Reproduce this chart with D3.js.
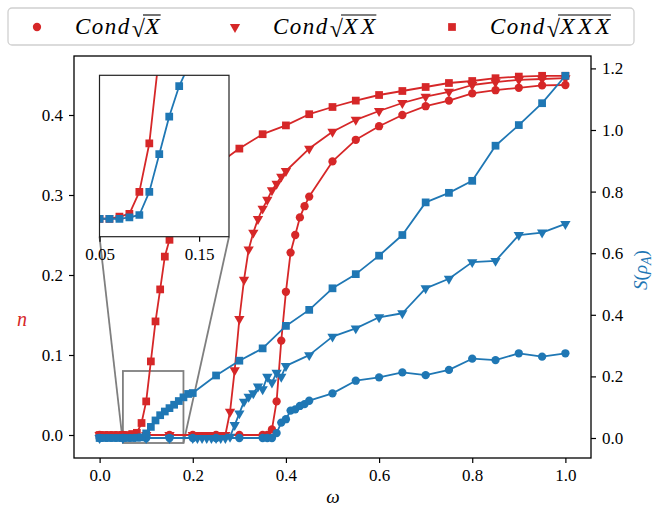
<!DOCTYPE html>
<html>
<head>
<meta charset="utf-8">
<script src="https://cdn.jsdelivr.net/npm/d3@7"></script>
<style>
  body { margin: 0; background: #fff; }
  svg { display: block; }
  text { font-family: "Liberation Serif", "DejaVu Serif", serif; }
</style>
</head>
<body>
<script>
// omega grids (each series has its own sampling)
var wSq = [0, 0.01, 0.02, 0.03, 0.04, 0.05, 0.06, 0.07, 0.08, 0.09, 0.10, 0.11, 0.12, 0.13, 0.14, 0.15, 0.16, 0.17, 0.18, 0.19, 0.20,
           0.25, 0.30, 0.35, 0.40, 0.45, 0.50, 0.55, 0.60, 0.65, 0.70, 0.75, 0.80, 0.85, 0.90, 0.95, 1.0];
var wTri = [0, 0.05, 0.10, 0.15, 0.20, 0.21, 0.22, 0.23, 0.24, 0.25, 0.26, 0.27, 0.28, 0.29, 0.30, 0.31, 0.32, 0.33, 0.34, 0.35,
            0.36, 0.37, 0.38, 0.39, 0.40, 0.45, 0.50, 0.55, 0.60, 0.65, 0.70, 0.75, 0.80, 0.85, 0.90, 0.95, 1.0];
var wCir = [0, 0.05, 0.10, 0.15, 0.20, 0.25, 0.30, 0.35, 0.36, 0.37, 0.38, 0.39, 0.40, 0.41, 0.42, 0.43, 0.44, 0.45,
            0.50, 0.55, 0.60, 0.65, 0.70, 0.75, 0.80, 0.85, 0.90, 0.95, 1.0];

// n (left axis, red)
var nSq = [0, 0, 0, 0, 0, 0, 0, 0.0012, 0.0027, 0.015, 0.042, 0.092, 0.142, 0.182, 0.223, 0.244, 0.26, 0.272, 0.283, 0.293, 0.302,
           0.337, 0.358, 0.376, 0.387, 0.401, 0.410, 0.418, 0.425, 0.430, 0.435, 0.440, 0.4425, 0.446, 0.448, 0.449, 0.449];
var nTri = [0, 0, 0, 0, 0, 0, 0, 0, 0, 0, 0, 0, 0.029, 0.081, 0.145, 0.194, 0.232, 0.253, 0.270, 0.283,
            0.294, 0.306, 0.314, 0.323, 0.330, 0.358, 0.379, 0.394, 0.405, 0.415, 0.423, 0.429, 0.4375, 0.441, 0.444, 0.445, 0.446];
var nCir = [0, 0, 0, 0, 0, 0, 0, 0, 0, 0.007, 0.042, 0.118, 0.179, 0.228, 0.250, 0.272, 0.286, 0.298,
            0.342, 0.369, 0.386, 0.400, 0.411, 0.418, 0.427, 0.431, 0.434, 0.437, 0.4375];

// S(rho_A) (right axis, blue)
var sSq = [0, 0, 0, 0, 0, 0, 0, 0, 0.0008, 0.0021, 0.015, 0.036, 0.057, 0.074, 0.086, 0.097, 0.108, 0.120, 0.132, 0.143, 0.146,
           0.203, 0.251, 0.291, 0.364, 0.416, 0.486, 0.532, 0.592, 0.659, 0.765, 0.796, 0.835, 0.949, 1.016, 1.087, 1.176];
var sTri = [0, 0, 0, 0, 0, 0, 0, 0, 0, 0, 0, 0, 0.004, 0.042, 0.080, 0.118, 0.134, 0.145, 0.167, 0.158,
            0.199, 0.180, 0.212, 0.199, 0.234, 0.269, 0.329, 0.356, 0.392, 0.405, 0.486, 0.517, 0.571, 0.575, 0.659, 0.667, 0.695];
var sCir = [0, 0, 0, 0, 0, 0, 0, 0, 0, 0, 0.016, 0.050, 0.061, 0.089, 0.093, 0.104, 0.110, 0.121,
            0.145, 0.186, 0.197, 0.213, 0.204, 0.221, 0.2575, 0.253, 0.275, 0.264, 0.275];

var xTicks = [0, 0.2, 0.4, 0.6, 0.8, 1.0];
var nTicks = [0, 0.1, 0.2, 0.3, 0.4];
var sTicks = [0, 0.2, 0.4, 0.6, 0.8, 1.0, 1.2];
var insetTicks = [0.05, 0.15];
var legendLabels = ["X", "XX", "XXX"];

var red = "#d62728", blue = "#1f77b4";
var serif = "Liberation Serif";

var svg = d3.select("body").append("svg")
    .attr("width", 658)
    .attr("height", 512);

// main scales
var x = d3.scaleLinear().domain([-0.055, 1.055]).range([74, 591]);
var yN = d3.scaleLinear().domain([-0.02875, 0.47375]).range([458, 56]);
var yS = d3.scaleLinear().domain([-20 / 308, 382 / 308]).range([458, 56]);

// inset scales
var xi = d3.scaleLinear().domain([0.05, 0.18]).range([99.5, 229]);
var yi = d3.scaleLinear().domain([-0.01, 0.08]).range([236.7, 75.3]);

function sym(shape) {
    if (shape === "sq") return d3.symbol().type(d3.symbolSquare).size(60)();
    if (shape === "tri") return d3.symbol().type(d3.symbolTriangle).size(46)();
    return d3.symbol().type(d3.symbolCircle).size(54)();
}

function drawSeries(g, xs, ys, xs2, ys2, color, shape) {
    var pts = xs.map(function(d, i) { return [xs2(d), ys2(ys[i])]; });
    g.append("path")
        .attr("d", d3.line()(pts))
        .attr("fill", "none")
        .attr("stroke", color)
        .attr("stroke-width", 1.8)
        .attr("stroke-linejoin", "round");
    g.selectAll(null).data(pts).enter().append("path")
        .attr("transform", function(p) {
            return "translate(" + p[0] + "," + p[1] + ")" + (shape === "tri" ? " rotate(180)" : "");
        })
        .attr("d", sym(shape))
        .attr("fill", color);
}

svg.append("clipPath").attr("id", "main-clip")
  .append("rect").attr("x", 74).attr("y", 56).attr("width", 517).attr("height", 402);

var plot = svg.append("g").attr("clip-path", "url(#main-clip)");

// zoom indicator + connectors (under data lines)
var ind = plot.append("g")
    .attr("fill", "none")
    .attr("stroke", "#7f7f7f")
    .attr("stroke-width", 1.8);
ind.append("rect")
    .attr("x", x(0.05)).attr("y", yN(0.08))
    .attr("width", x(0.18) - x(0.05)).attr("height", yN(-0.01) - yN(0.08));
ind.append("line").attr("x1", x(0.05)).attr("y1", yN(-0.01)).attr("x2", xi(0.05)).attr("y2", yi(-0.01));
ind.append("line").attr("x1", x(0.18)).attr("y1", yN(-0.01)).attr("x2", xi(0.18)).attr("y2", yi(-0.01));

// red: n
drawSeries(plot, wCir, nCir, x, yN, red, "cir");
drawSeries(plot, wTri, nTri, x, yN, red, "tri");
drawSeries(plot, wSq, nSq, x, yN, red, "sq");
// blue: S
drawSeries(plot, wCir, sCir, x, yS, blue, "cir");
drawSeries(plot, wTri, sTri, x, yS, blue, "tri");
drawSeries(plot, wSq, sSq, x, yS, blue, "sq");

// frame
svg.append("rect")
    .attr("x", 74).attr("y", 56).attr("width", 517).attr("height", 402)
    .attr("fill", "none").attr("stroke", "#000").attr("stroke-width", 1.3);

// axes
var axisFont = "17px";
var gx = svg.append("g").attr("transform", "translate(0,458)")
    .call(d3.axisBottom(x).tickValues(xTicks).tickFormat(d3.format(".1f")).tickSize(5).tickPadding(6));
var gl = svg.append("g").attr("transform", "translate(74,0)")
    .call(d3.axisLeft(yN).tickValues(nTicks).tickFormat(d3.format(".1f")).tickSize(5).tickPadding(6));
var gr = svg.append("g").attr("transform", "translate(591,0)")
    .call(d3.axisRight(yS).tickValues(sTicks).tickFormat(d3.format(".1f")).tickSize(5).tickPadding(6));
[gx, gl, gr].forEach(function(g) {
    g.attr("font-family", serif);
    g.select(".domain").remove();
    g.selectAll("line").attr("stroke", "#000").attr("stroke-width", 1.2);
    g.selectAll("text").attr("font-family", serif).style("font-size", axisFont).attr("fill", "#000");
});

// axis labels
svg.append("text")
    .attr("x", 333).attr("y", 503)
    .attr("text-anchor", "middle")
    .attr("font-family", serif)
    .style("font-style", "italic").style("font-size", "19px")
    .text("ω");
svg.append("text")
    .attr("x", 22).attr("y", 326)
    .attr("text-anchor", "middle")
    .attr("font-family", serif)
    .style("font-style", "italic").style("font-size", "20px")
    .attr("fill", red)
    .text("n");
var sl = svg.append("text")
    .attr("transform", "translate(647,270) rotate(-90)")
    .attr("text-anchor", "middle")
    .attr("font-family", serif)
    .style("font-size", "19px")
    .attr("fill", blue);
sl.append("tspan").style("font-style", "italic").text("S");
sl.append("tspan").text("(");
sl.append("tspan").style("font-style", "italic").text("ρ");
sl.append("tspan").style("font-style", "italic").style("font-size", "14px").attr("dy", 4).text("A");
sl.append("tspan").attr("dy", -4).text(")");

// inset
svg.append("clipPath").attr("id", "inset-clip")
  .append("rect").attr("x", 99.5).attr("y", 75.3).attr("width", 229 - 99.5).attr("height", 236.7 - 75.3);
svg.append("rect")
    .attr("x", 99.5).attr("y", 75.3).attr("width", 229 - 99.5).attr("height", 236.7 - 75.3)
    .attr("fill", "#fff");
var ins = svg.append("g").attr("clip-path", "url(#inset-clip)");
drawSeries(ins, wSq, nSq, xi, yi, red, "sq");
drawSeries(ins, wSq, sSq, xi, yi, blue, "sq");
svg.append("rect")
    .attr("x", 99.5).attr("y", 75.3).attr("width", 229 - 99.5).attr("height", 236.7 - 75.3)
    .attr("fill", "none").attr("stroke", "#222").attr("stroke-width", 1.2);
var gi = svg.append("g").attr("transform", "translate(0,236.7)")
    .call(d3.axisBottom(xi).tickValues(insetTicks).tickFormat(d3.format(".2f")).tickSize(5).tickPadding(6));
gi.select(".domain").remove();
gi.selectAll("line").attr("stroke", "#000").attr("stroke-width", 1.2);
gi.selectAll("text").attr("font-family", serif).style("font-size", axisFont).attr("fill", "#000");

// legend
var leg = svg.append("g");
leg.append("rect")
    .attr("x", 8).attr("y", 8).attr("width", 626).attr("height", 37).attr("rx", 4)
    .attr("fill", "#fff").attr("stroke", "#d0d0d0").attr("stroke-width", 1.3);
var legShapes = ["cir", "tri", "sq"];
var legMarkX = [37, 235, 452];
var legTextX = [75, 273, 490];
legShapes.forEach(function(s, i) {
    leg.append("path")
        .attr("transform", "translate(" + legMarkX[i] + ",27)" + (s === "tri" ? " rotate(180)" : ""))
        .attr("d", sym(s))
        .attr("fill", red);
    var tx = legTextX[i], ty = 34;
    var t1 = leg.append("text").attr("x", tx).attr("y", ty)
        .attr("font-family", serif)
        .style("font-style", "italic").style("font-size", "23px").style("letter-spacing", "1.5px")
        .text("Cond");
    var w1 = t1.node().getComputedTextLength() + 1;
    var t2 = leg.append("text").attr("x", tx + w1).attr("y", ty + 3)
        .attr("font-family", "DejaVu Serif").style("font-size", "24px")
        .text("√");
    var w2 = t2.node().getComputedTextLength() - 1;
    var t3 = leg.append("text").attr("x", tx + w1 + w2 + 1).attr("y", ty)
        .attr("font-family", serif)
        .style("font-style", "italic").style("font-size", "24px").style("letter-spacing", "3px")
        .text(legendLabels[i]);
    var w3 = t3.node().getComputedTextLength() - 2;
    leg.append("line")
        .attr("x1", tx + w1 + w2 - 1).attr("x2", tx + w1 + w2 + 1 + w3)
        .attr("y1", ty - 19).attr("y2", ty - 19)
        .attr("stroke", "#000").attr("stroke-width", 1.1);
});
</script>
</body>
</html>
